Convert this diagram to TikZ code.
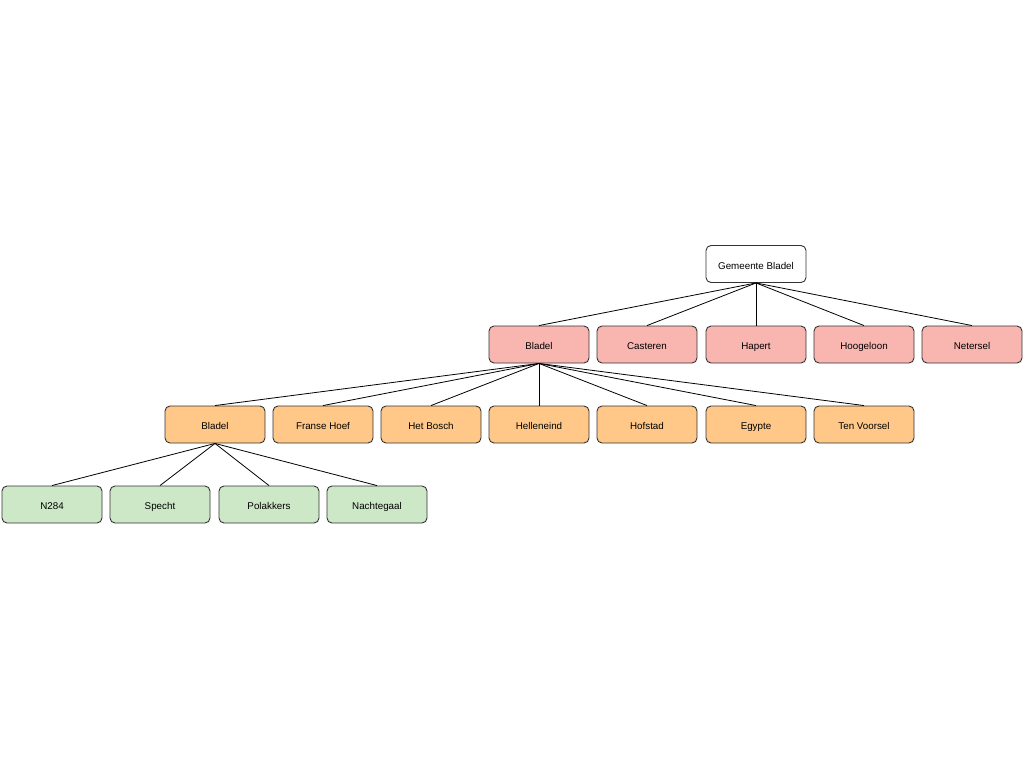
\documentclass[tikz,border=0pt]{standalone}
\usepackage{fontspec}
\setmainfont{Liberation Sans}
\usepackage{xcolor}
\definecolor{rootfill}{HTML}{FFFFFF}
\definecolor{pinkfill}{HTML}{F9B6B1}
\definecolor{orangefill}{HTML}{FFC888}
\definecolor{greenfill}{HTML}{CCE8C6}
\begin{document}
\begin{tikzpicture}[x=1pt,y=-1pt]
		\tikzstyle{box}=[draw=black!80,line width=0.9pt,rounded corners=5pt,minimum width=100pt,minimum height=37pt,inner sep=0pt,text height=10pt,text depth=0pt,font=\fontsize{9.8}{11}\selectfont]
		\tikzstyle{link}=[black,line width=0.8pt]
		\useasboundingbox (0,0) rectangle (1024,768);
		% top
		\node [box,fill=rootfill] (gem) at (756,264) {Gemeente Bladel};
		% kernen
		\node [box,fill=pinkfill] (bladel) at (539,344.5) {Bladel};
		\node [box,fill=pinkfill] (casteren) at (647,344.5) {Casteren};
		\node [box,fill=pinkfill] (hapert) at (756,344.5) {Hapert};
		\node [box,fill=pinkfill] (hoogeloon) at (864,344.5) {Hoogeloon};
		\node [box,fill=pinkfill] (netersel) at (972,344.5) {Netersel};
		% wijken
		\node [box,fill=orangefill] (wbladel) at (215,424.5) {Bladel};
		\node [box,fill=orangefill] (franse) at (323,424.5) {Franse Hoef};
		\node [box,fill=orangefill] (bosch) at (431,424.5) {Het Bosch};
		\node [box,fill=orangefill] (helle) at (539,424.5) {Helleneind};
		\node [box,fill=orangefill] (hofstad) at (647,424.5) {Hofstad};
		\node [box,fill=orangefill] (egypte) at (756,424.5) {Egypte};
		\node [box,fill=orangefill] (voorsel) at (864,424.5) {Ten Voorsel};
		% buurten
		\node [box,fill=greenfill] (n284) at (52,504.5) {N284};
		\node [box,fill=greenfill] (specht) at (160,504.5) {Specht};
		\node [box,fill=greenfill] (polakkers) at (269,504.5) {Polakkers};
		\node [box,fill=greenfill] (nachtegaal) at (377,504.5) {Nachtegaal};
		\foreach \k in {bladel,casteren,hapert,hoogeloon,netersel}
			\draw [link] (gem.south) -- (\k.north);
		\foreach \w in {wbladel,franse,bosch,helle,hofstad,egypte,voorsel}
			\draw [link] (bladel.south) -- (\w.north);
		\foreach \b in {n284,specht,polakkers,nachtegaal}
			\draw [link] (wbladel.south) -- (\b.north);
\end{tikzpicture}
\end{document}
